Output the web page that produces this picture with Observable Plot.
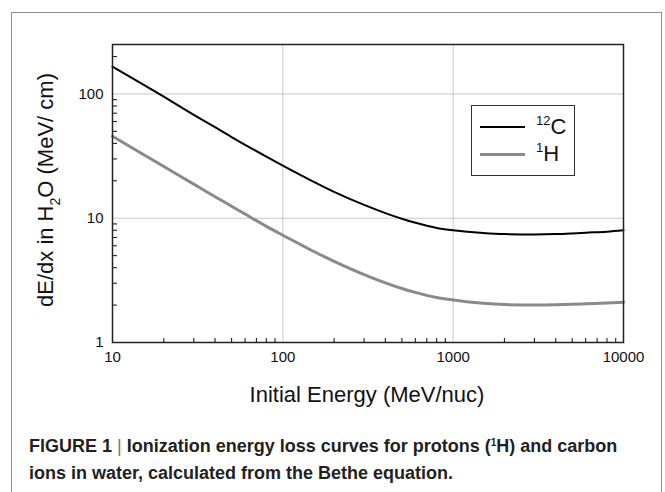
<!DOCTYPE html>
<html>
<head>
<meta charset="utf-8">
<script src="https://cdn.jsdelivr.net/npm/d3@7"></script>
<script src="https://cdn.jsdelivr.net/npm/@observablehq/plot@0.6"></script>
<style>
  html, body { margin: 0; padding: 0; background: #fff; }
  body { width: 665px; height: 492px; position: relative; overflow: hidden; font-family: "Liberation Sans", Arial, sans-serif; }
  #frame { position: absolute; left: 11px; top: 12px; width: 651px; height: 500px; border: 1.5px solid #8e8e8e; border-bottom: none; box-sizing: border-box; }
  #chart { position: absolute; left: 0; top: 0; }
  #ylab { position: absolute; left: 46px; top: 190px; transform: translate(-50%, -50%) rotate(-90deg); white-space: nowrap; font-size: 22px; color: #111; }
  #ylab .sub { font-size: 14px; position: relative; top: 7px; }
  #xlab { position: absolute; left: 367px; top: 395px; transform: translate(-50%, -50%); white-space: nowrap; font-size: 22px; color: #111; }
  #legend { position: absolute; left: 471px; top: 105px; width: 104px; height: 71px; border: 1.5px solid #333; box-sizing: border-box; background: #fff; }
  .lrow { position: absolute; left: 0; height: 26px; width: 100%; }
  .lline { position: absolute; left: 8px; width: 45px; top: 12px; }
  .ltxt { position: absolute; left: 64px; top: 0; font-size: 22px; color: #111; line-height: 26px; }
  .ltxt sup { font-size: 13px; vertical-align: 0; position: relative; top: -9px; }
  #caption { position: absolute; left: 29px; top: 434px; width: 640px; white-space: nowrap; font-family: "Liberation Sans", Arial, sans-serif; font-weight: bold; font-size: 18px; line-height: 24px; color: #231f20; }
  #caption .bar { font-weight: normal; color: #777; }
  #caption sup { font-size: 10px; vertical-align: 0; position: relative; top: -6px; }
</style>
</head>
<body>
<div id="frame"></div>
<div id="chart"></div>
<div id="ylab">dE/dx in H<span class="sub">2</span>O (MeV/ cm)</div>
<div id="xlab">Initial Energy (MeV/nuc)</div>
<div id="legend">
  <div class="lrow" style="top:8px"><div class="lline" style="border-top:2px solid #000"></div><div class="ltxt"><sup>12</sup>C</div></div>
  <div class="lrow" style="top:35px"><div class="lline" style="border-top:3px solid #8a8a8a"></div><div class="ltxt"><sup>1</sup>H</div></div>
</div>
<div id="caption">FIGURE 1 <span class="bar">|</span> Ionization energy loss curves for protons (<sup>1</sup>H) and carbon<br>ions in water, calculated from the Bethe equation.</div>
<script>
// Data
const energy = [10, 15, 20, 30, 40, 50, 60, 80, 100, 150, 200, 300, 400, 500, 600, 800, 1000, 1500, 2000, 3000, 4000, 5000, 6000, 8000, 10000];
const carbon = [166, 120, 95, 68, 54, 45, 39, 31.3, 26.5, 19.8, 16.3, 12.8, 11.0, 9.9, 9.2, 8.35, 8.0, 7.6, 7.45, 7.4, 7.45, 7.55, 7.65, 7.8, 8.0];
const proton = [45.7, 32.9, 26.1, 18.8, 14.9, 12.5, 10.8, 8.6, 7.3, 5.45, 4.5, 3.52, 3.02, 2.72, 2.53, 2.3, 2.2, 2.07, 2.02, 2.0, 2.01, 2.03, 2.05, 2.08, 2.11];
const xTicks = [10, 100, 1000, 10000];
const yTicks = [1, 10, 100];
const xMinor = [20,30,40,50,60,70,80,90,200,300,400,500,600,700,800,900,2000,3000,4000,5000,6000,7000,8000,9000];
const yMinor = [2,3,4,5,6,7,8,9,20,30,40,50,60,70,80,90,200];

const cData = energy.map((e, i) => ({e, v: carbon[i]}));
const hData = energy.map((e, i) => ({e, v: proton[i]}));

const plot = Plot.plot({
  width: 665,
  height: 395,
  marginLeft: 112,
  marginRight: 42,
  marginTop: 44,
  marginBottom: 53,
  style: {fontFamily: "Liberation Sans, Arial, sans-serif", fontSize: "15px", color: "#111", background: "transparent"},
  x: {type: "log", domain: [10, 10000]},
  y: {type: "log", domain: [1, 250]},
  marks: [
    Plot.gridX([100, 1000], {stroke: "#c8c8c8", strokeOpacity: 1, strokeWidth: 1}),
    Plot.gridY([10, 100], {stroke: "#c8c8c8", strokeOpacity: 1, strokeWidth: 1}),
    Plot.axisX(xTicks, {anchor: "bottom", tickSize: 0, tickPadding: 9, label: null, tickFormat: d => String(d), fontSize: 15}),
    Plot.axisY(yTicks, {anchor: "left", tickSize: 0, tickPadding: 9, label: null, tickFormat: d => String(d), fontSize: 15}),
    Plot.axisX(xMinor, {anchor: "bottom", tickSize: 4, dy: -4, text: null, label: null, stroke: "#222", strokeWidth: 1.1}),
    Plot.axisY(yMinor, {anchor: "left", tickSize: 5, dx: 5, text: null, label: null, stroke: "#222", strokeWidth: 1.1}),
    Plot.line(hData, {x: "e", y: "v", stroke: "#8a8a8a", strokeWidth: 3, curve: "monotone-x"}),
    Plot.line(cData, {x: "e", y: "v", stroke: "#000", strokeWidth: 2, curve: "monotone-x"}),
    Plot.frame({stroke: "#222", strokeWidth: 1.5})
  ]
});
document.getElementById("chart").appendChild(plot);
</script>
</body>
</html>
